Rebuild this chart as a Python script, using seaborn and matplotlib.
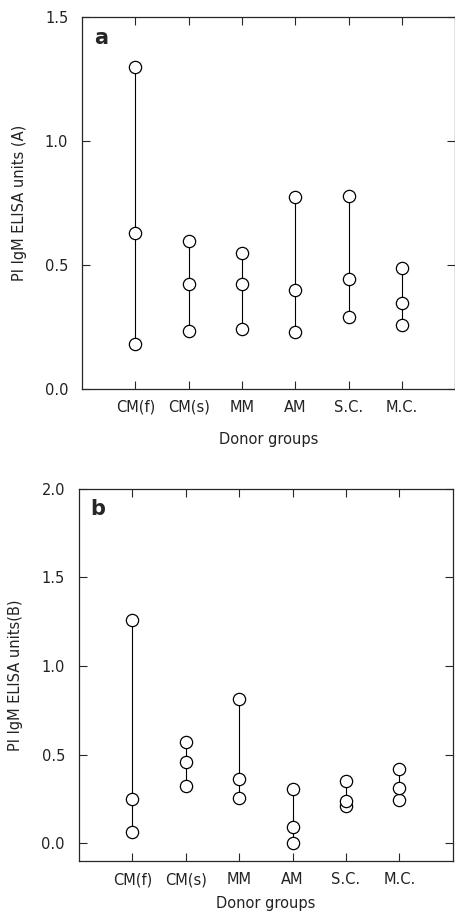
import pandas as pd
import numpy as np
import seaborn as sns
from matplotlib import pyplot as plt

groups = ["CM(f)", "CM(s)", "MM", "AM", "S.C.", "M.C."]

# three values per donor group (high, mid, low)
vals_a = {
    "CM(f)": [1.30, 0.63, 0.18],
    "CM(s)": [0.595, 0.423, 0.234],
    "MM": [0.550, 0.422, 0.241],
    "AM": [0.773, 0.398, 0.229],
    "S.C.": [0.778, 0.442, 0.292],
    "M.C.": [0.488, 0.348, 0.257],
}
vals_b = {
    "CM(f)": [1.258, 0.248, 0.065],
    "CM(s)": [0.570, 0.459, 0.323],
    "MM": [0.816, 0.365, 0.257],
    "AM": [0.305, 0.094, 0.0],
    "S.C.": [0.353, 0.240, 0.210],
    "M.C.": [0.421, 0.314, 0.244],
}


def make_df(vals):
    rows = []
    for i, g in enumerate(groups):
        for v in sorted(vals[g]):
            rows.append({"group": g, "pos": i + 1, "value": v})
    return pd.DataFrame(rows)


sns.set_style("ticks")
plt.rcParams["font.family"] = ["DejaVu Sans"]
plt.rcParams["font.size"] = 10.5

fig = plt.figure(figsize=(4.56, 9.17), dpi=100)
ax_a = fig.add_axes([0.180, 0.576, 0.818, 0.405])
ax_b = fig.add_axes([0.173, 0.061, 0.820, 0.406])

txt = "#222222"


def draw_panel(ax, df, letter, ylabel, ylim, yticks, xpad):
    sns.lineplot(data=df, x="pos", y="value", units="group", estimator=None,
                 sort=False, color="black", linewidth=0.8, ax=ax, legend=False)
    sns.scatterplot(data=df, x="pos", y="value", marker="o", s=78,
                    facecolor="white", edgecolor="black", linewidth=0.9,
                    ax=ax, zorder=3, legend=False)
    ax.set_xlim(0, 7)
    ax.set_ylim(*ylim)
    ax.set_xticks(range(1, len(groups) + 1))
    ax.set_xticklabels(groups)
    ax.set_yticks(yticks)
    ax.set_yticklabels([f"{t:.1f}" for t in yticks])
    ax.tick_params(direction="in", length=6, width=0.8, top=True, right=True,
                   labelsize=10.5, labelcolor=txt, pad=10)
    ax.tick_params(axis="x", pad=8)
    for s in ax.spines.values():
        s.set_linewidth(0.9)
    ax.set_xlabel("Donor groups", fontsize=10.5, labelpad=xpad, color=txt)
    ax.set_ylabel(ylabel, fontsize=10.5, labelpad=13, color=txt)
    ax.text(0.05, 0.945, letter, transform=ax.transAxes, fontsize=15,
            fontweight="bold", va="center", ha="center")


draw_panel(ax_a, make_df(vals_a), "a", "PI IgM ELISA units (A)", (0, 1.5),
           [0.0, 0.5, 1.0, 1.5], 12)
draw_panel(ax_b, make_df(vals_b), "b", "PI IgM ELISA units(B)", (-0.1, 2.0),
           [0.0, 0.5, 1.0, 1.5, 2.0], 6)

fig.savefig("out.png", dpi=100)
